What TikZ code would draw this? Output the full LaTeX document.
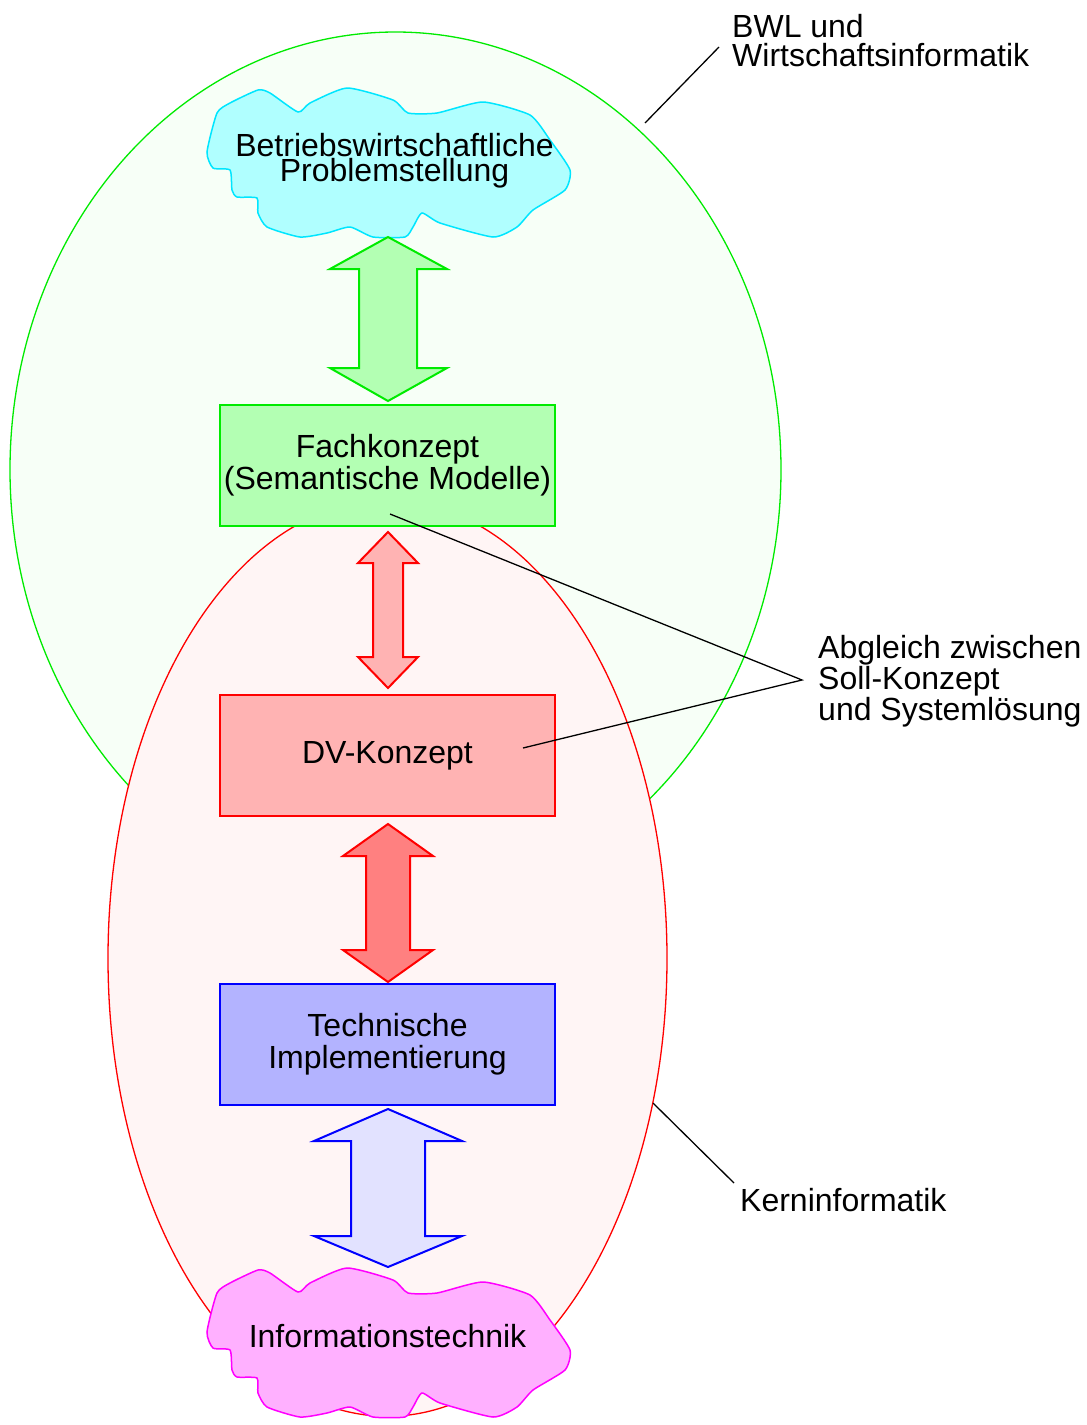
\documentclass[tikz,border=0pt]{standalone}
\usepackage{fontspec}
\setmainfont{Liberation Sans}
\definecolor{gline}{RGB}{0,235,0}
\definecolor{gfill}{RGB}{179,255,179}
\definecolor{gell}{RGB}{247,255,247}
\definecolor{rell}{RGB}{255,245,245}
\definecolor{rline}{RGB}{255,0,0}
\definecolor{rfill}{RGB}{255,179,179}
\definecolor{rfilld}{RGB}{255,128,128}
\definecolor{bline}{RGB}{0,0,255}
\definecolor{bfill}{RGB}{179,179,255}
\definecolor{bfillx}{RGB}{226,226,255}
\definecolor{cline}{RGB}{0,230,255}
\definecolor{cfill}{RGB}{176,255,255}
\definecolor{mline}{RGB}{255,0,255}
\definecolor{mfill}{RGB}{255,176,255}
\tikzset{
  txt/.style={font=\fontsize{32}{31}\selectfont, inner sep=0pt, align=center},
  lbl/.style={font=\fontsize{32}{31}\selectfont, inner sep=0pt, align=left, anchor=base west},
  boxx/.style={draw, line width=2pt, minimum width=335pt, minimum height=121pt, inner sep=0pt, align=center, font=\fontsize{32}{32}\selectfont},
  conn/.style={draw=black, line width=1.3pt},
}
\newcommand{\mycloud}{plot[smooth cycle, tension=0.35] coordinates {(207,152) (217,113) (230,103) (258,90) (270,93) (298,112) (310,103) (347,88) (393,100) (408,113) (437,113) (483,102) (530,115) (550,140) (570,170) (565,190) (533,210) (517,227) (493,237) (440,223) (422,213) (413,227) (405,237) (373,237) (350,227) (327,233) (300,237) (267,227) (258,213) (257,198) (237,197) (232,190) (230,170) (213,168)}}
\begin{document}
\begin{tikzpicture}[x=1pt,y=-1pt]
\useasboundingbox (0,0) rectangle (1087,1425);
% ellipses
\draw[gline, fill=gell, line width=1.3pt] (395.5,469.7) ellipse [x radius=385.5pt, y radius=437.7pt];
\draw[rline, fill=rell, line width=1.3pt] (387.5,958.3) ellipse [x radius=279.5pt, y radius=458pt];
% clouds
\draw[cline, fill=cfill, line width=1.5pt] \mycloud;
\begin{scope}[yshift=-1180pt]
\draw[mline, fill=mfill, line width=1.5pt] \mycloud;
\end{scope}
\node[txt, anchor=base, font=\fontsize{32}{21}\selectfont] (cloudtop) at (394.5,181) {Betriebswirtschaftliche\\Problemstellung};
\node[txt] (cloudbot) at (387.5,1336.5) {Informationstechnik};
% arrows
\draw[gline, fill=gfill, line width=2pt] (388,237) -- (447,269) -- (417,269) -- (417,368) -- (447,368) -- (388,401) -- (330,368) -- (359,368) -- (359,269) -- (330,269) -- cycle;
\draw[rline, fill=rfill, line width=2pt] (388,532) -- (418,563) -- (403,563) -- (403,657) -- (418,657) -- (388,688) -- (358,657) -- (373,657) -- (373,563) -- (358,563) -- cycle;
\draw[rline, fill=rfilld, line width=2pt] (388,824) -- (433,856) -- (410,856) -- (410,950) -- (433,950) -- (388,982) -- (343,950) -- (366,950) -- (366,856) -- (343,856) -- cycle;
\draw[bline, fill=bfillx, line width=2pt] (388,1109) -- (462,1141) -- (425,1141) -- (425,1236) -- (462,1236) -- (388,1267) -- (314,1236) -- (351,1236) -- (351,1141) -- (314,1141) -- cycle;
% boxes
\node[boxx, draw=gline, fill=gfill] (fach) at (387.5,465.5) {Fachkonzept\\(Semantische Modelle)};
\node[boxx, draw=rline, fill=rfill] (dv) at (387.5,755.5) {DV-Konzept};
\node[boxx, draw=bline, fill=bfill] (tech) at (387.5,1044.5) {Technische\\Implementierung};
% labels (base anchor = last line baseline)
\node[lbl, font=\fontsize{32}{29}\selectfont] (bwl) at (732,66) {BWL und\\Wirtschaftsinformatik};
\node[lbl] (abg) at (818,720) {Abgleich zwischen\\Soll-Konzept\\und Systemlösung};
\node[lbl] (kern) at (740,1211) {Kerninformatik};
% connectors
\coordinate (bwlA) at (645,123);
\coordinate (bwlB) at (719,47);
\coordinate (kernA) at (653,1103);
\coordinate (kernB) at (734,1183);
\coordinate (abgM) at (802,680);
\coordinate (fachP) at (390,514);
\coordinate (dvP) at (523,748);
\draw[conn] (bwlA) -- (bwlB);
\draw[conn] (kernA) -- (kernB);
\draw[conn] (fachP) -- (abgM) -- (dvP);
\end{tikzpicture}
\end{document}
